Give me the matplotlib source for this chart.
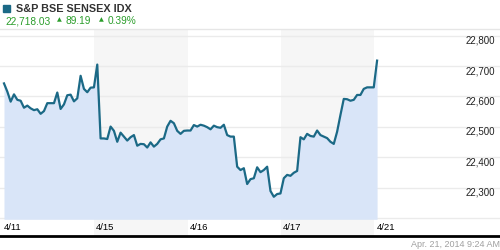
import numpy as np
import matplotlib
matplotlib.use("Agg")
import matplotlib.pyplot as plt
import matplotlib.transforms as mtransforms

plt.rcParams['font.family'] = ['Liberation Sans', 'DejaVu Sans']

# Cotações por sessão (intervalos regulares)
sessao_0411 = [22643, 22616, 22583, 22607, 22589, 22586, 22563, 22570, 22561, 22555,
               22558, 22543, 22552, 22578, 22578, 22578, 22613, 22559, 22574, 22604,
               22606, 22584, 22594, 22668, 22625, 22614, 22629, 22630]
sessao_0415 = [22705, 22462, 22462, 22460, 22501, 22487, 22451, 22481, 22468, 22455,
               22466, 22473, 22438, 22444, 22443, 22432, 22449, 22435, 22444, 22459,
               22462, 22501, 22520, 22512, 22487, 22477, 22487, 22488, 22488, 22506]
sessao_0416 = [22501, 22507, 22504, 22499, 22492, 22504, 22499, 22497, 22507, 22473,
               22468, 22468, 22369, 22358, 22364, 22312, 22328, 22331, 22367, 22351,
               22358, 22369, 22289, 22270, 22279, 22281]
sessao_0417 = [22331, 22342, 22339, 22349, 22355, 22466, 22459, 22477, 22470, 22468,
               22488, 22473, 22468, 22463, 22451, 22444, 22484, 22539, 22592, 22591,
               22586, 22589, 22605, 22605, 22625, 22630, 22630, 22630, 22718]

datas = ['4/11', '4/15', '4/16', '4/17', '4/21']
inicio_datas = [-0.6, 27.0, 55.3, 83.2, 111.2]
niveis = [22200, 22300, 22400, 22500, 22600, 22700, 22800]
rotulos_niveis = ['', '22,300', '22,400', '22,500', '22,600', '22,700', '22,800']

valores = np.array(sessao_0411 + sessao_0415 + sessao_0416 + sessao_0417)
x = np.arange(len(valores))

azul = '#1b6986'
verde = '#2a9d2a'

fig = plt.figure(figsize=(5, 2.5), dpi=100)
ax = fig.add_axes([0, 14 / 250, 1, 207 / 250])
ax.set_xlim(-1.2, 148.9)
ax.set_ylim(22141, 22822)

# faixas cinzas em dias alternados
for i in (1, 3):
    ax.axvspan(inicio_datas[i], inicio_datas[i + 1], color='#f6f6f6', zorder=0, lw=0)

for n in niveis:
    ax.axhline(n, color='#ebebeb', lw=1, zorder=1)

ax.fill_between(x, valores, 22196, color='#d9e5f8', zorder=2, lw=0)
ax.plot(x, valores, color=azul, lw=1.6, zorder=3, solid_joinstyle='round')

ax.set_xticks([])
ax.set_yticks([])
for s in ('left', 'right'):
    ax.spines[s].set_visible(False)
ax.spines['top'].set_color('#e6e6e6')
ax.spines['top'].set_linewidth(1)
ax.spines['bottom'].set_color('black')
ax.spines['bottom'].set_linewidth(2)

# rótulos do eixo y, dentro do gráfico, abaixo da grade
desloc = mtransforms.ScaledTranslation(0, -5 / 100, fig.dpi_scale_trans)
trans_y = mtransforms.blended_transform_factory(ax.transAxes, ax.transData) + desloc
for n, r in zip(niveis, rotulos_niveis):
    ax.text(495 / 500, n, r, transform=trans_y, ha='right', va='center',
            fontsize=7, color='#222222')

trans_x = mtransforms.blended_transform_factory(ax.transData, ax.transAxes)
for p, d in zip(inicio_datas, datas):
    ax.text(p + 0.6, 0.042, d, transform=trans_x, ha='left', va='center',
            fontsize=6.8, color='black')

# cabeçalho
fig.patches.append(plt.Rectangle((3 / 500, 1 - 12 / 250), 7 / 500, 7 / 250,
                                 transform=fig.transFigure, color=azul))
fig.text(16 / 500, 1 - 8.5 / 250, 'S&P BSE SENSEX IDX', fontsize=7.8,
         fontweight='bold', color='#333333', va='center')
fig.text(5 / 500, 1 - 21 / 250, '22,718.03', fontsize=7.3, color=verde, va='center')
fig.text(57 / 500, 1 - 20 / 250, '▲', fontsize=4.5, color=verde, va='center',
         family='DejaVu Sans')
fig.text(66 / 500, 1 - 21 / 250, '89.19', fontsize=7.3, color=verde, va='center')
fig.text(99 / 500, 1 - 20 / 250, '▲', fontsize=4.5, color=verde, va='center',
         family='DejaVu Sans')
fig.text(108 / 500, 1 - 21 / 250, '0.39%', fontsize=7.3, color=verde, va='center')

fig.text(500 / 500, 1 - 244.5 / 250, 'Apr. 21, 2014 9:24 AM', fontsize=6.5,
         color='#a0a0a0', ha='right', va='center')

fig.savefig('out.png', dpi=100)
